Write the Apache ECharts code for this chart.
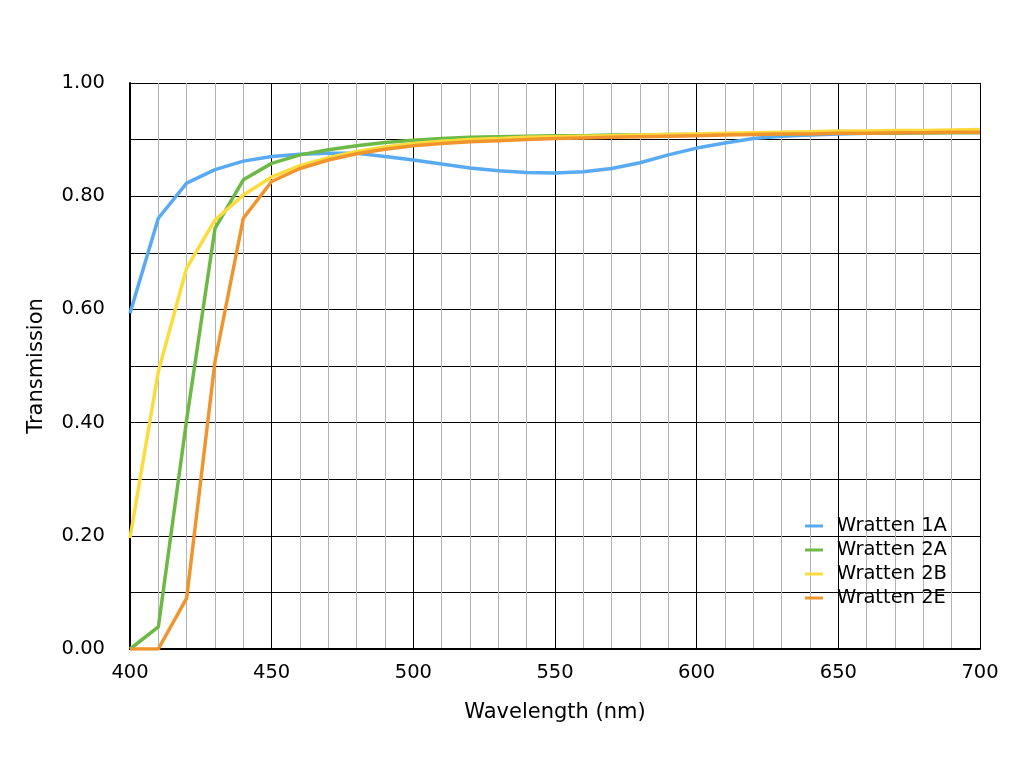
<!DOCTYPE html>
<html>
<head>
<meta charset="utf-8">
<script src="https://cdn.jsdelivr.net/npm/echarts@6/dist/echarts.min.js"></script>
<style>
  html, body { margin: 0; padding: 0; background: #fff; }
  #chart { width: 1024px; height: 768px; }
</style>
</head>
<body>
<div id="chart"></div>
<script>
// Wavelength samples (nm), every 10 nm
const wavelengths = [
  400, 410, 420, 430, 440, 450, 460, 470, 480, 490, 500,
  510, 520, 530, 540, 550, 560, 570, 580, 590, 600,
  610, 620, 630, 640, 650, 660, 670, 680, 690, 700,
];

// Transmission
const wratten1A = [
  0.593, 0.761, 0.823, 0.847, 0.862, 0.870, 0.874, 0.876, 0.876, 0.870, 0.864,
  0.857, 0.850, 0.845, 0.842, 0.841, 0.843, 0.849, 0.859, 0.873, 0.885,
  0.894, 0.902, 0.906, 0.908, 0.910, 0.911, 0.912, 0.912, 0.913, 0.913,
];
const wratten2A = [
  0.000, 0.039, 0.405, 0.743, 0.829, 0.858, 0.873, 0.882, 0.889, 0.895, 0.899,
  0.902, 0.904, 0.905, 0.906, 0.907, 0.907, 0.908, 0.908, 0.909, 0.909,
  0.910, 0.910, 0.910, 0.911, 0.911, 0.911, 0.911, 0.912, 0.912, 0.912,
];
const wratten2B = [
  0.196, 0.490, 0.673, 0.758, 0.802, 0.834, 0.854, 0.868, 0.879, 0.887, 0.893,
  0.897, 0.900, 0.902, 0.904, 0.905, 0.906, 0.907, 0.908, 0.909, 0.910,
  0.911, 0.912, 0.913, 0.914, 0.915, 0.915, 0.916, 0.916, 0.917, 0.918,
];
const wratten2E = [
  0.000, 0.000, 0.090, 0.508, 0.761, 0.826, 0.849, 0.864, 0.875, 0.883, 0.889,
  0.893, 0.896, 0.898, 0.900, 0.902, 0.903, 0.904, 0.905, 0.906, 0.907,
  0.908, 0.909, 0.910, 0.910, 0.911, 0.911, 0.912, 0.912, 0.913, 0.913,
];

const seriesNames = ["Wratten 1A", "Wratten 2A", "Wratten 2B", "Wratten 2E"];
const seriesColors = ["#58AAF2", "#6DB945", "#FCDC3C", "#F0942E"];
const seriesData = [wratten1A, wratten2A, wratten2B, wratten2E];

const FONT = "DejaVu Sans";

const chart = echarts.init(document.getElementById("chart"), null, { renderer: "canvas" });

chart.setOption({
  animation: false,
  backgroundColor: "#fff",
  textStyle: { fontFamily: FONT },
  grid: { left: 130, right: 44, top: 83, bottom: 119, containLabel: false },
  legend: {
    orient: "vertical",
    left: 800,
    top: 511,
    itemWidth: 18,
    itemHeight: 3,
    itemGap: 4,
    icon: "rect",
    textStyle: { fontFamily: FONT, fontSize: 19.5, color: "#000", padding: [0, 0, 0, 9] },
    data: seriesNames,
  },
  xAxis: {
    type: "value",
    min: 400,
    max: 700,
    interval: 10,
    name: "Wavelength (nm)",
    nameLocation: "middle",
    nameGap: 53,
    nameTextStyle: { fontFamily: FONT, fontSize: 21, color: "#000" },
    axisLine: { show: true, lineStyle: { color: "#000", width: 2 } },
    axisTick: { show: false },
    axisLabel: {
      fontFamily: FONT, fontSize: 19.5, color: "#000", margin: 14,
      formatter: (v) => (v % 50 === 0 ? String(v) : ""),
    },
    splitLine: {
      show: true,
      lineStyle: { color: ["#000", "#b4b4b4", "#b4b4b4", "#b4b4b4", "#b4b4b4"], width: 1 },
    },
  },
  yAxis: {
    type: "value",
    min: 0,
    max: 1,
    interval: 0.1,
    name: "Transmission",
    nameLocation: "middle",
    nameGap: 83,
    nameRotate: 90,
    nameTextStyle: { fontFamily: FONT, fontSize: 21, color: "#000" },
    axisLine: { show: true, lineStyle: { color: "#000", width: 2 } },
    axisTick: { show: false },
    axisLabel: {
      fontFamily: FONT, fontSize: 19.5, color: "#000", margin: 25,
      formatter: (v) => (Math.round(v * 10) % 2 === 0 ? v.toFixed(2) : ""),
    },
    splitLine: { show: true, lineStyle: { color: "#000", width: 1 } },
  },
  series: seriesNames.map((name, i) => ({
    name,
    type: "line",
    data: wavelengths.map((w, j) => [w, seriesData[i][j]]),
    showSymbol: false,
    symbol: "none",
    lineStyle: { color: seriesColors[i], width: 3.5 },
    itemStyle: { color: seriesColors[i] },
    clip: true,
  })),
});
</script>
</body>
</html>
